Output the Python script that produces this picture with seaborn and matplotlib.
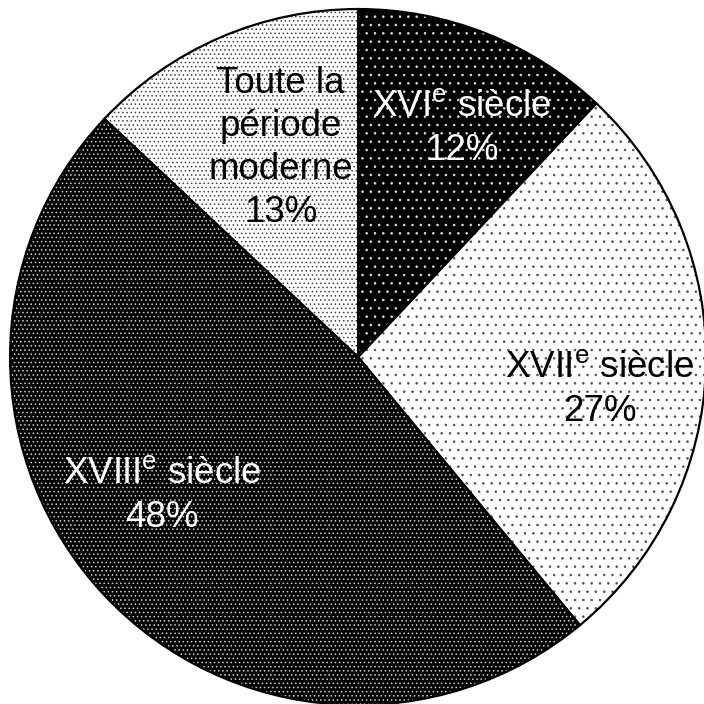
import matplotlib
matplotlib.use('Agg')
import matplotlib.pyplot as plt
import seaborn as sns
import numpy as np

sns.set_style('white')
plt.rcParams['font.family'] = ['Liberation Sans', 'DejaVu Sans']
plt.rcParams['mathtext.fontset'] = 'custom'
plt.rcParams['mathtext.rm'] = 'Liberation Sans'
plt.rcParams['hatch.linewidth'] = 0.6

# data
periods = ['XVI$^{\\mathrm{e}}$ siècle', 'XVII$^{\\mathrm{e}}$ siècle',
           'XVIII$^{\\mathrm{e}}$ siècle', 'Toute la\npériode\nmoderne']
shares = [12, 27, 48, 13]

# style per slice: fill, dot colour, hatch density
fills = ['black', 'white', 'black', 'white']
dots = ['#e0e0e0', '#505050', '#d0d0d0', '#404040']
hatches = ['..', '..', '....', '....']
text_colors = ['white', 'black', 'white', 'black']
# label placement (radius fraction, angle clockwise from top in degrees)
label_pos = [(0.72, 24.4), (0.70, 97.8), (0.69, 234.7), (0.64, 339.6)]

fig = plt.figure(figsize=(7.04, 7.04), dpi=100)
ax = fig.add_axes([0, 0, 1, 1])

wedges, _ = ax.pie(shares, colors=fills, startangle=90, counterclock=False,
                   wedgeprops=dict(linewidth=0))
for w, d, h in zip(wedges, dots, hatches):
    w.set_edgecolor(d)
    w.set_hatch(h)

# outlines on top
ax.pie(shares, colors=['none'] * 4, startangle=90, counterclock=False,
       wedgeprops=dict(edgecolor='black', linewidth=1.6))

for lab, pct, tc, (rf, ang) in zip(periods, shares, text_colors, label_pos):
    a = np.deg2rad(ang)
    ax.text(rf * np.sin(a), rf * np.cos(a), f'{lab}\n{pct}%', color=tc,
            ha='center', va='center', fontsize=26.5, linespacing=1.3)

ax.set_aspect('equal')
ax.set_xlim(-1.029, 0.994)
ax.set_ylim(-0.997, 1.026)
ax.axis('off')

fig.savefig('out.png', dpi=100, facecolor='white')
